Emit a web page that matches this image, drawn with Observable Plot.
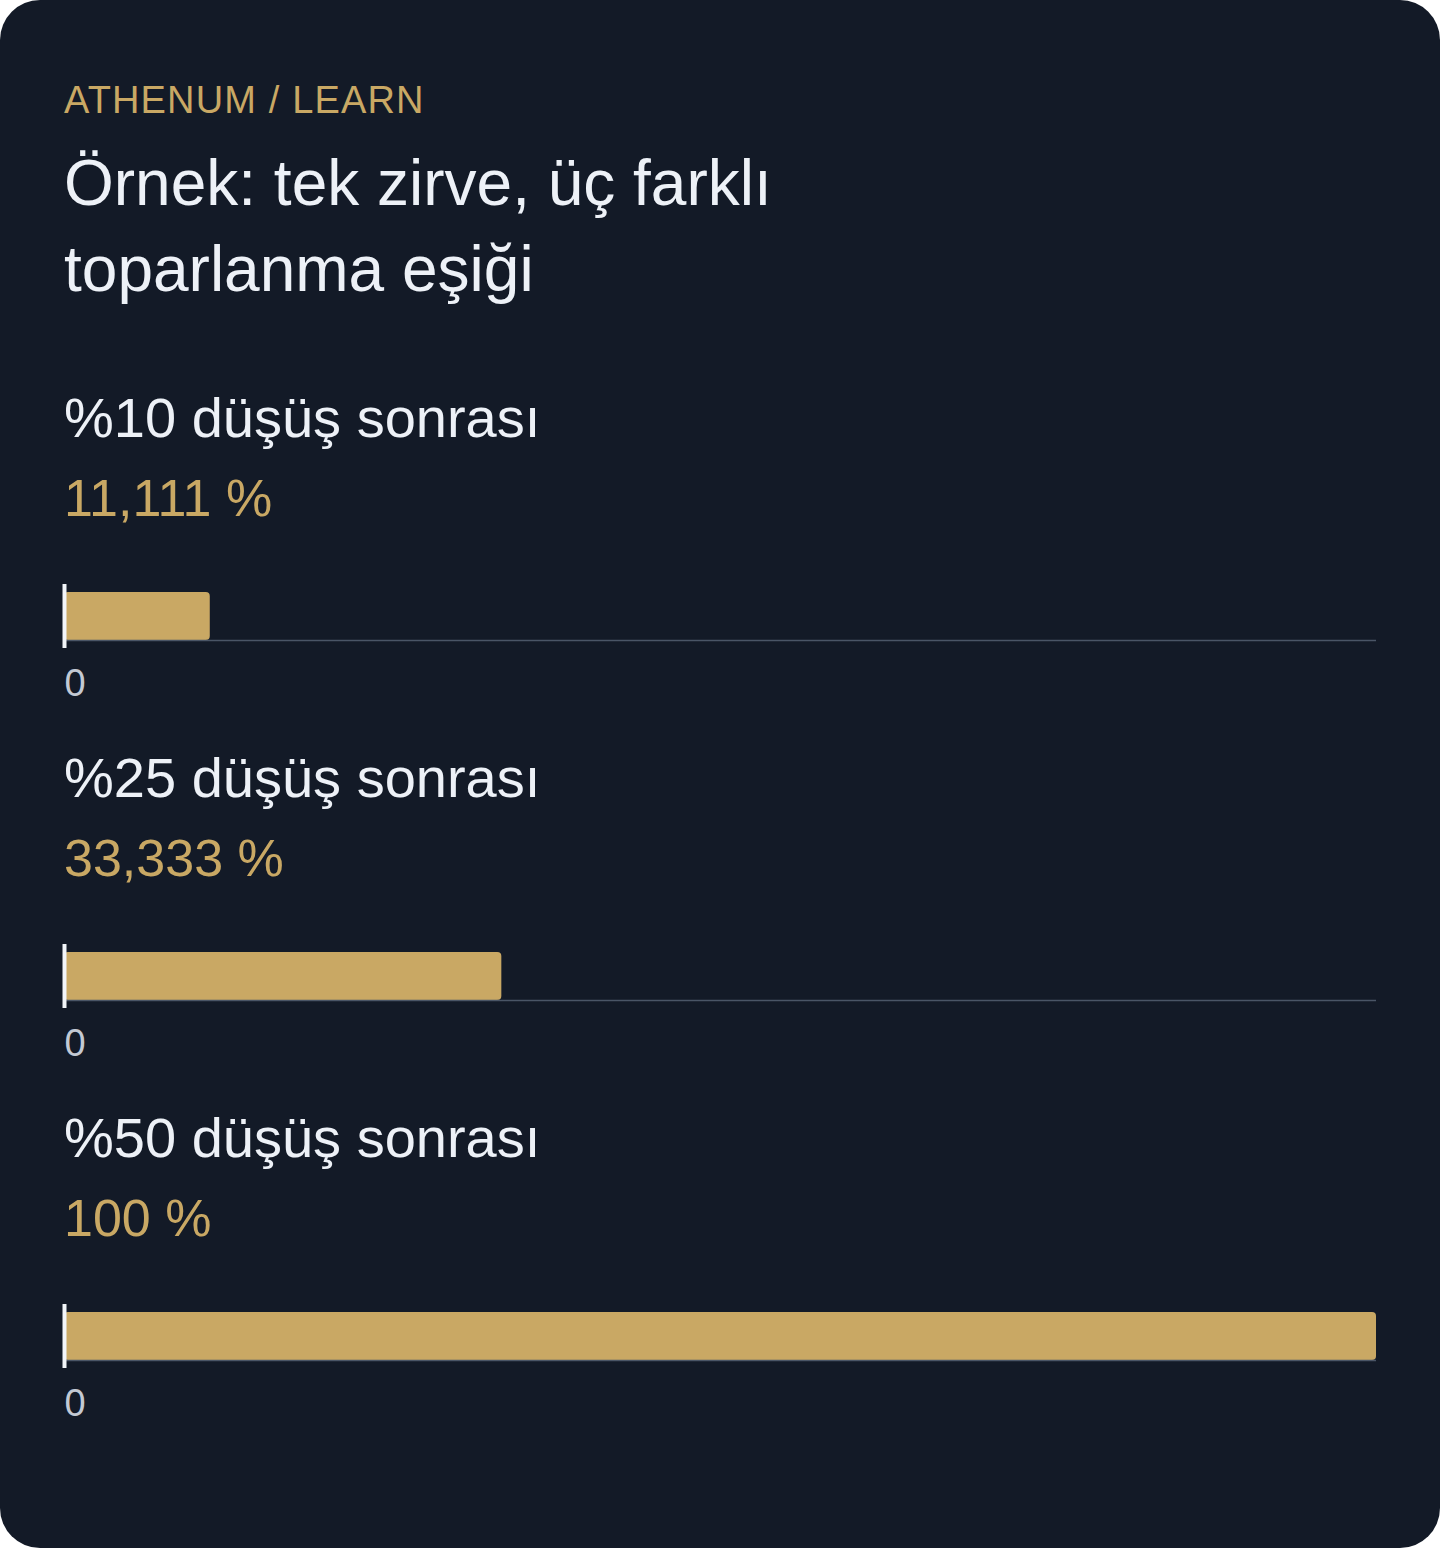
<!DOCTYPE html>
<html lang="tr">
<head>
<meta charset="utf-8">
<script src="https://cdn.jsdelivr.net/npm/d3@7"></script>
<script src="https://cdn.jsdelivr.net/npm/@observablehq/plot@0.6"></script>
<style>
  html, body { margin: 0; padding: 0; background: #ffffff; }
  body { width: 1440px; height: 1548px; overflow: hidden; }
  .card {
    position: relative; width: 1440px; height: 1548px;
    background: #131a27; border-radius: 40px; overflow: hidden;
    font-family: "Liberation Sans", Arial, Helvetica, sans-serif;
  }
  .eyebrow {
    position: absolute; left: 64px; top: 77px;
    font-size: 38px; line-height: 46px; letter-spacing: 0.03em;
    color: #c9a864; white-space: nowrap;
  }
  .title {
    position: absolute; left: 64px; top: 140px; width: 900px;
    font-size: 64px; line-height: 86px; color: #edf1f7; font-weight: 400;
  }
  .label {
    position: absolute; left: 64px;
    font-size: 56px; line-height: 64px; color: #edf1f7; white-space: nowrap;
  }
  .value {
    position: absolute; left: 64px;
    font-size: 52px; line-height: 60px; color: #c9a864; white-space: nowrap;
  }
  .chart { position: absolute; left: 0; }
  .chart svg { display: block; overflow: visible; }
</style>
</head>
<body>
<div class="card" id="card">
  <div class="eyebrow">ATHENUM / LEARN</div>
  <div class="title">Örnek: tek zirve, üç farklı toparlanma eşiği</div>
</div>
<script>
// ---- data ----
const dropLabels = ["%10 düşüş sonrası", "%25 düşüş sonrası", "%50 düşüş sonrası"];
const recoveryPct = [11.111, 33.333, 100];
const valueLabels = ["11,111 %", "33,333 %", "100 %"];
const xDomain = [0, 100];
const xTicks = [0];

// ---- styles ----
const GOLD = "#c9a864";
const card = document.getElementById("card");
const step = 360;

dropLabels.forEach((lab, i) => {
  const off = i * step;

  const l = document.createElement("div");
  l.className = "label";
  l.style.top = (386 + off) + "px";
  l.textContent = lab;
  card.appendChild(l);

  const v = document.createElement("div");
  v.className = "value";
  v.style.top = (468 + off) + "px";
  v.textContent = valueLabels[i];
  card.appendChild(v);

  const rows = [{value: recoveryPct[i]}];
  const chart = Plot.plot({
    width: 1440,
    height: 130,
    marginLeft: 64,
    marginRight: 64,
    marginTop: 12,
    marginBottom: 70,
    style: {background: "transparent", fontFamily: "Liberation Sans, Arial, sans-serif", fontSize: "38px", overflow: "visible"},
    x: {domain: xDomain, axis: null},
    y: {domain: [0, 1], axis: null},
    marks: [
      Plot.rectX(rows, {x1: 0, x2: "value", y1: 0, y2: 1, fill: GOLD, rx: 4}),
      Plot.ruleY([0], {stroke: "#4a5566", strokeWidth: 1.5}),
      Plot.ruleX([0], {stroke: "#f2f5f9", strokeWidth: 4, insetTop: -8, insetBottom: -8}),
      Plot.axisX({ticks: xTicks, tickSize: 0, tickPadding: 29, textAnchor: "start", fontSize: 38, color: "#c3c9d3", label: null, tickFormat: d => String(d)})
    ]
  });
  const wrap = document.createElement("div");
  wrap.className = "chart";
  wrap.style.top = (580 + off) + "px";
  wrap.appendChild(chart);
  card.appendChild(wrap);
});
</script>
</body>
</html>
